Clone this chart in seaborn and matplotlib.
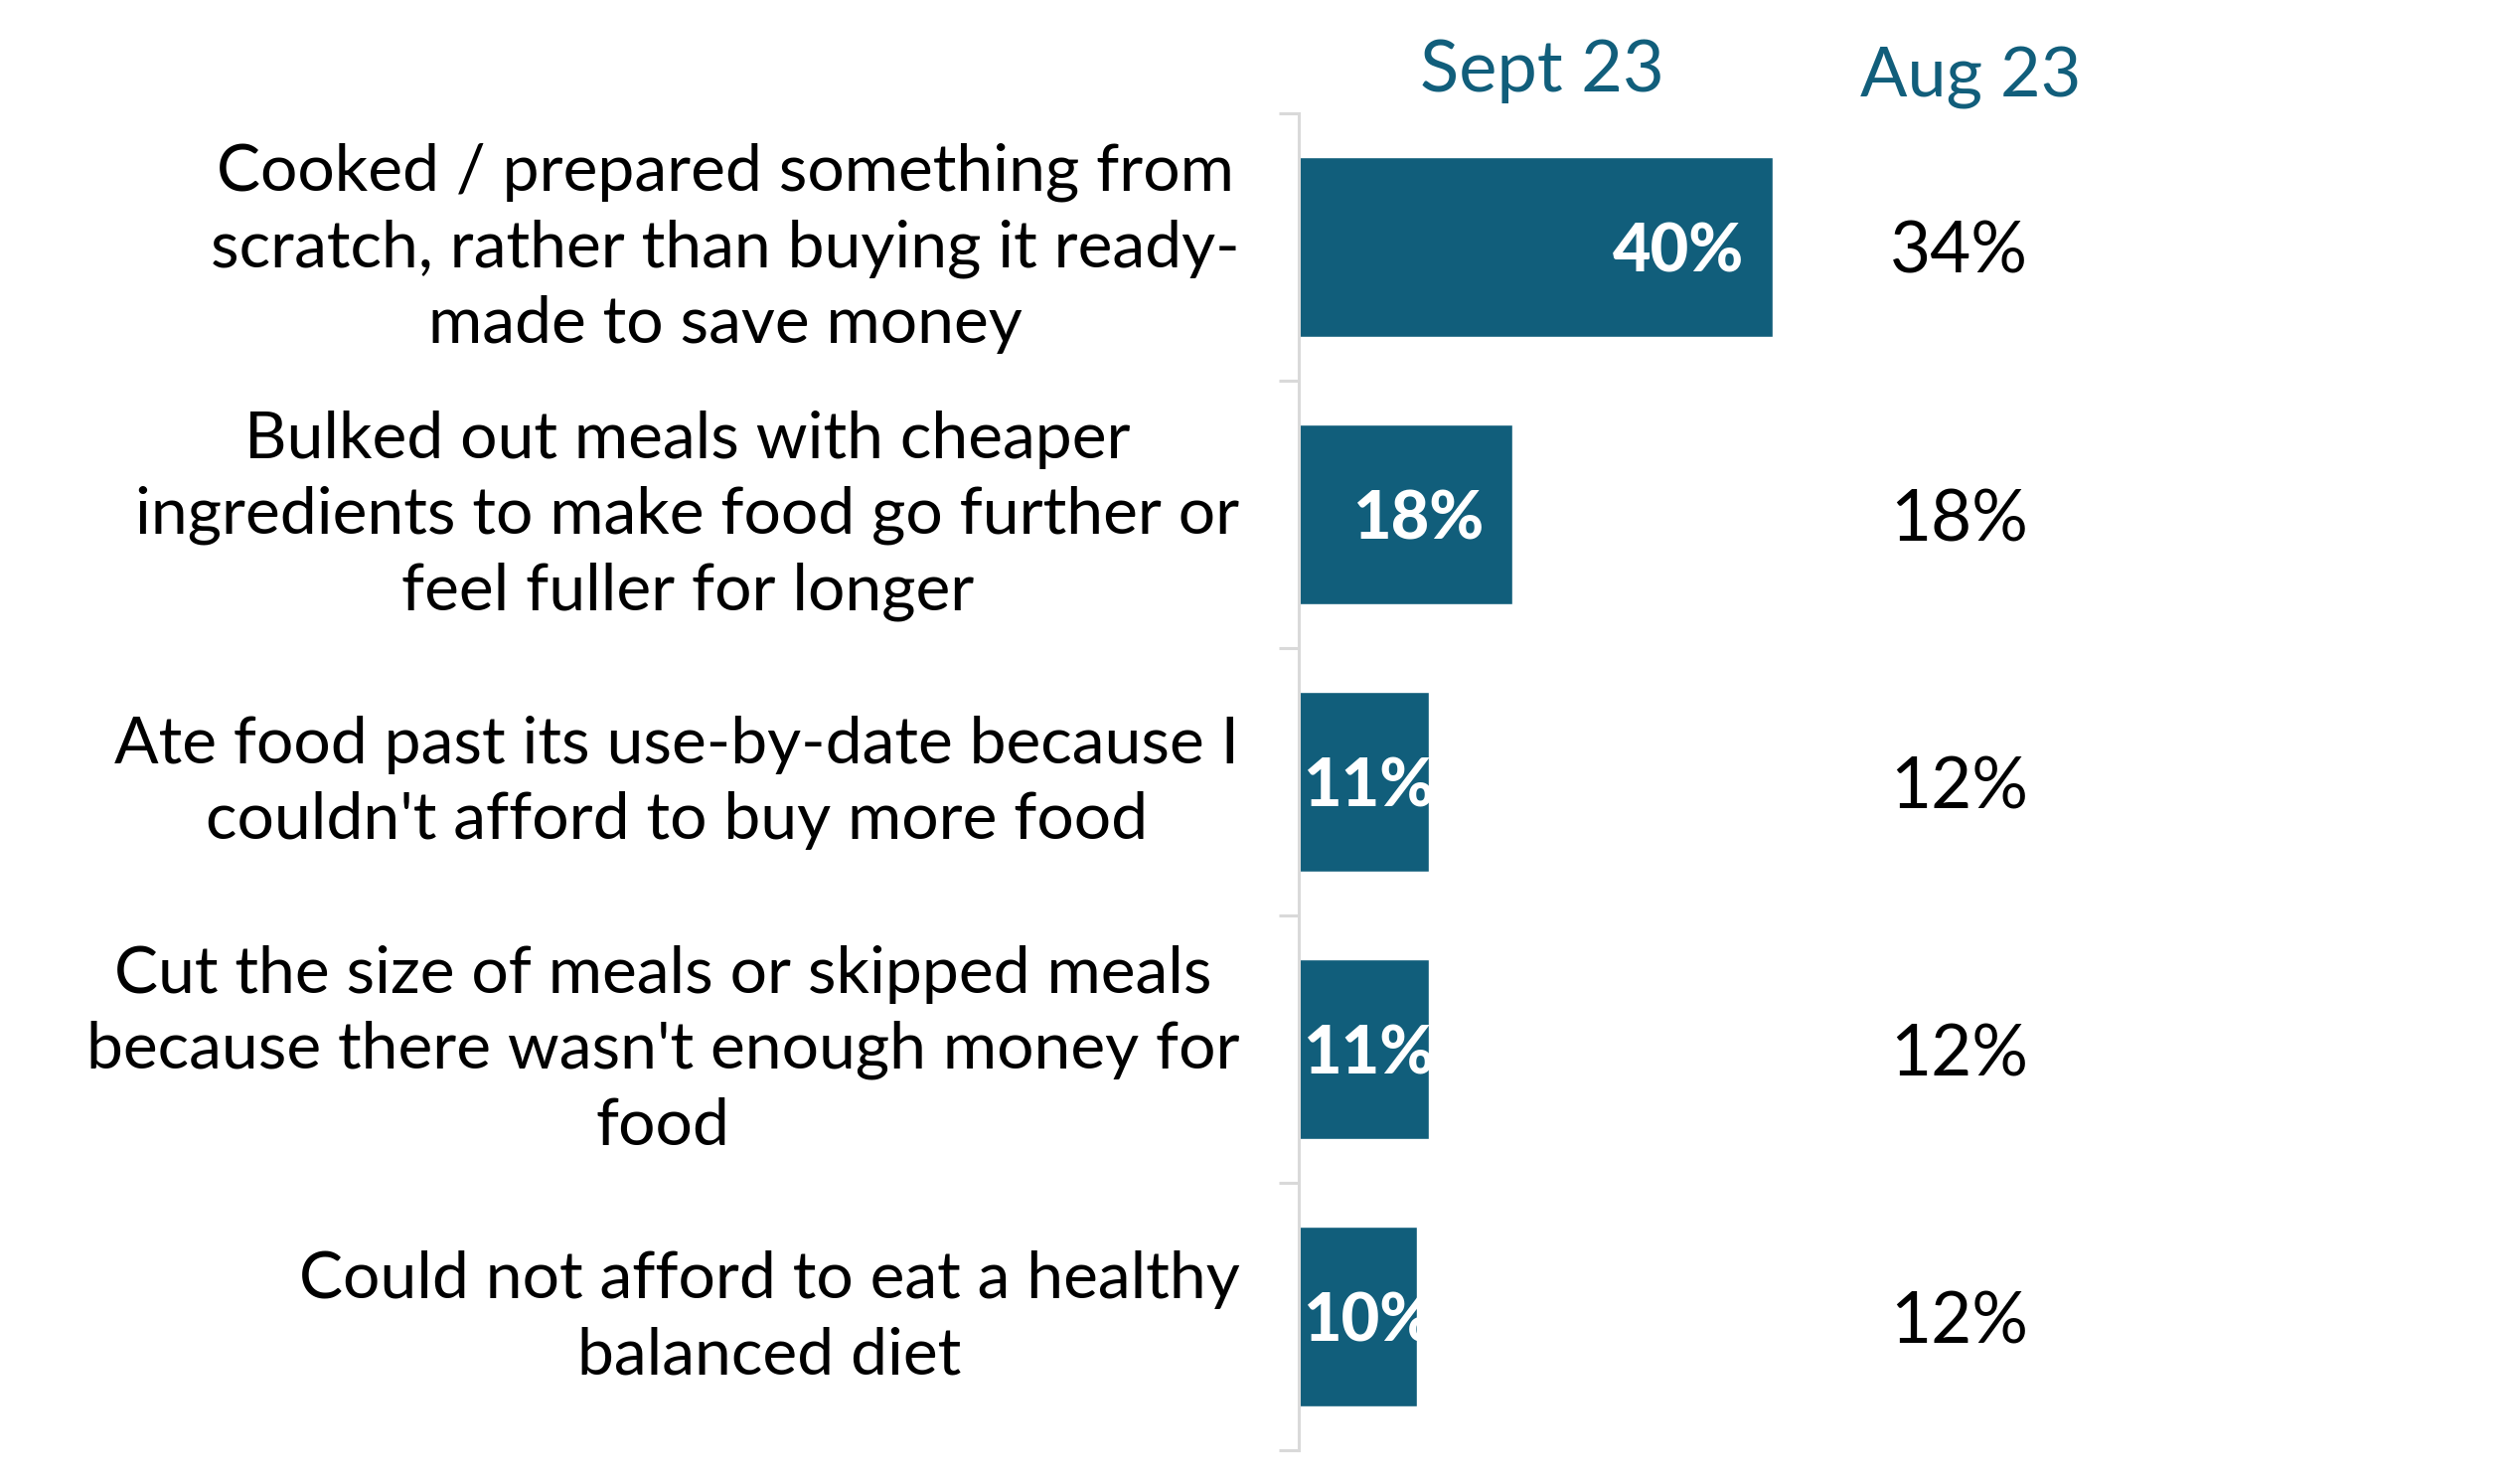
import matplotlib
matplotlib.use("Agg")
import matplotlib.pyplot as plt
import matplotlib.transforms as mtransforms
import seaborn as sns
import pandas as pd
import numpy as np

categories = [
    "Cooked / prepared something from\nscratch, rather than buying it ready-\nmade to save money",
    "Bulked out meals with cheaper\ningredients to make food go further or\nfeel fuller for longer",
    "Ate food past its use-by-date because I\ncouldn't afford to buy more food",
    "Cut the size of meals or skipped meals\nbecause there wasn't enough money for\nfood",
    "Could not afford to eat a healthy\nbalanced diet",
]
sept_23 = [40, 18, 11, 11, 10]
aug_23 = [34, 18, 12, 12, 12]
header_sept = "Sept 23"
header_aug = "Aug 23"

BAR = "#115e7b"
GREY = "#d9d9d9"
FONT = ["Lato", "DejaVu Sans"]

sns.set_theme(style="white")
plt.rcParams["font.family"] = FONT

df = pd.DataFrame({"category": categories, "sept": sept_23, "aug": aug_23})

fig = plt.figure(figsize=(25.36, 14.92), dpi=100)
ax = fig.add_axes([0.5154, 0.0221, 0.4704, 0.9015])

sns.barplot(data=df, x="sept", y="category", orient="h", color=BAR,
            saturation=1, width=0.67, ax=ax)

ax.set_xlim(0, 100)
ax.set_ylim(len(categories) - 0.5, -0.5)
ax.set_xlabel("")
ax.set_ylabel("")
ax.set_xticks([])

for s in ["top", "right", "bottom"]:
    ax.spines[s].set_visible(False)
ax.spines["left"].set_color(GREY)
ax.spines["left"].set_linewidth(2.2)

ax.set_yticks(np.arange(-0.5, len(categories)), minor=True)
ax.tick_params(axis="y", which="minor", length=14.4, width=2.2, color=GREY, left=True)
ax.tick_params(axis="y", which="major", length=0, pad=43, labelsize=47.5)
shift = mtransforms.ScaledTranslation(0, 0.13, fig.dpi_scale_trans)
for lab in ax.get_yticklabels():
    lab.set_multialignment("center")
    lab.set_linespacing(1.36)
    lab.set_color("black")
    lab.set_transform(lab.get_transform() + shift)

fig.canvas.draw()
renderer = fig.canvas.get_renderer()
inv = ax.transData.inverted()

# values inside bars
for i, v in enumerate(sept_23):
    t = ax.text(v - 2.4, i, f"{v}%", ha="right", va="center_baseline", color="white",
                fontsize=48, fontweight="black")
    bb = t.get_window_extent(renderer)
    left = inv.transform((bb.x0, bb.y0))[0]
    if left < 0.3:
        t.set_x(v - 2.4 + (0.3 - left))

# Aug 23 values
for i, v in enumerate(aug_23):
    ax.text(55.7, i, f"{v}%", ha="center", va="center_baseline", color="black", fontsize=51)

# headers
ax.text(20.5, 1.016, header_sept, transform=ax.get_xaxis_transform(), ha="center",
        va="baseline", color=BAR, fontsize=52)
ax.text(56.7, 1.0126, header_aug, transform=ax.get_xaxis_transform(), ha="center",
        va="baseline", color=BAR, fontsize=50.5)

fig.savefig("out.png", dpi=100)
